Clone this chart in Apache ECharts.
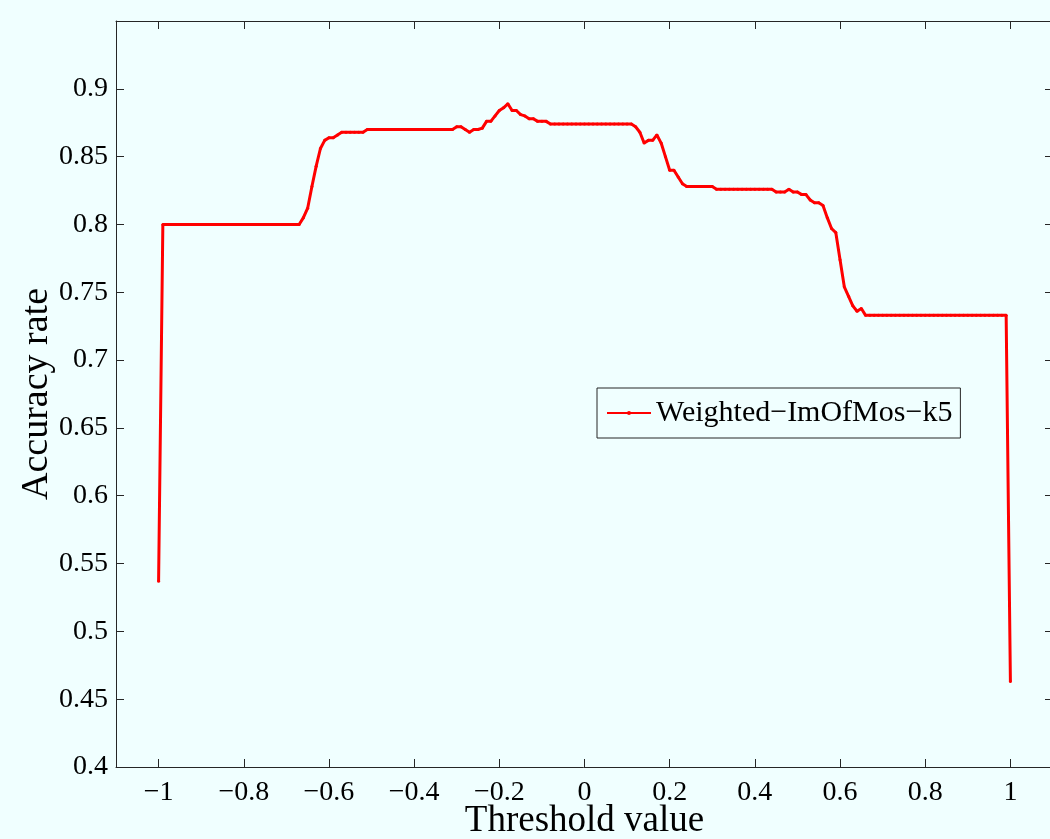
<!DOCTYPE html>
<html>
<head>
<meta charset="utf-8">
<title>Accuracy rate vs threshold</title>
<script src="https://cdn.jsdelivr.net/npm/echarts@6/dist/echarts.min.js"></script>
<style>
  html, body { margin: 0; padding: 0; background: #F0FFFF; }
  #chart { width: 1050px; height: 839px; }
</style>
</head>
<body>
<div id="chart"></div>
<script>
// Threshold values (x) sampled every 0.01
const thresholds = [
  -1.00, -0.99, -0.98, -0.97, -0.96, -0.95, -0.94, -0.93, -0.92, -0.91,
  -0.90, -0.89, -0.88, -0.87, -0.86, -0.85, -0.84, -0.83, -0.82, -0.81,
  -0.80, -0.79, -0.78, -0.77, -0.76, -0.75, -0.74, -0.73, -0.72, -0.71,
  -0.70, -0.69, -0.68, -0.67, -0.66, -0.65, -0.64, -0.63, -0.62, -0.61,
  -0.60, -0.59, -0.58, -0.57, -0.56, -0.55, -0.54, -0.53, -0.52, -0.51,
  -0.50, -0.49, -0.48, -0.47, -0.46, -0.45, -0.44, -0.43, -0.42, -0.41,
  -0.40, -0.39, -0.38, -0.37, -0.36, -0.35, -0.34, -0.33, -0.32, -0.31,
  -0.30, -0.29, -0.28, -0.27, -0.26, -0.25, -0.24, -0.23, -0.22, -0.21,
  -0.20, -0.19, -0.18, -0.17, -0.16, -0.15, -0.14, -0.13, -0.12, -0.11,
  -0.10, -0.09, -0.08, -0.07, -0.06, -0.05, -0.04, -0.03, -0.02, -0.01,
   0.00,  0.01,  0.02,  0.03,  0.04,  0.05,  0.06,  0.07,  0.08,  0.09,
   0.10,  0.11,  0.12,  0.13,  0.14,  0.15,  0.16,  0.17,  0.18,  0.19,
   0.20,  0.21,  0.22,  0.23,  0.24,  0.25,  0.26,  0.27,  0.28,  0.29,
   0.30,  0.31,  0.32,  0.33,  0.34,  0.35,  0.36,  0.37,  0.38,  0.39,
   0.40,  0.41,  0.42,  0.43,  0.44,  0.45,  0.46,  0.47,  0.48,  0.49,
   0.50,  0.51,  0.52,  0.53,  0.54,  0.55,  0.56,  0.57,  0.58,  0.59,
   0.60,  0.61,  0.62,  0.63,  0.64,  0.65,  0.66,  0.67,  0.68,  0.69,
   0.70,  0.71,  0.72,  0.73,  0.74,  0.75,  0.76,  0.77,  0.78,  0.79,
   0.80,  0.81,  0.82,  0.83,  0.84,  0.85,  0.86,  0.87,  0.88,  0.89,
   0.90,  0.91,  0.92,  0.93,  0.94,  0.95,  0.96,  0.97,  0.98,  0.99,
   1.00
];

// Accuracy rate at each threshold
const accuracy = [
  0.537, 0.800, 0.800, 0.800, 0.800, 0.800, 0.800, 0.800, 0.800, 0.800,
  0.800, 0.800, 0.800, 0.800, 0.800, 0.800, 0.800, 0.800, 0.800, 0.800,
  0.800, 0.800, 0.800, 0.800, 0.800, 0.800, 0.800, 0.800, 0.800, 0.800,
  0.800, 0.800, 0.800, 0.800, 0.805, 0.812, 0.828, 0.843, 0.856, 0.862,
  0.864, 0.864, 0.866, 0.868, 0.868, 0.868, 0.868, 0.868, 0.868, 0.870,
  0.870, 0.870, 0.870, 0.870, 0.870, 0.870, 0.870, 0.870, 0.870, 0.870,
  0.870, 0.870, 0.870, 0.870, 0.870, 0.870, 0.870, 0.870, 0.870, 0.870,
  0.872, 0.872, 0.870, 0.868, 0.870, 0.870, 0.871, 0.876, 0.876, 0.880,
  0.884, 0.886, 0.889, 0.884, 0.884, 0.881, 0.880, 0.878, 0.878, 0.876,
  0.876, 0.876, 0.874, 0.874, 0.874, 0.874, 0.874, 0.874, 0.874, 0.874,
  0.874, 0.874, 0.874, 0.874, 0.874, 0.874, 0.874, 0.874, 0.874, 0.874,
  0.874, 0.874, 0.872, 0.868, 0.860, 0.862, 0.862, 0.866, 0.860, 0.850,
  0.840, 0.840, 0.835, 0.830, 0.828, 0.828, 0.828, 0.828, 0.828, 0.828,
  0.828, 0.826, 0.826, 0.826, 0.826, 0.826, 0.826, 0.826, 0.826, 0.826,
  0.826, 0.826, 0.826, 0.826, 0.826, 0.824, 0.824, 0.824, 0.826, 0.824,
  0.824, 0.822, 0.822, 0.818, 0.816, 0.816, 0.814, 0.805, 0.797, 0.794,
  0.774, 0.754, 0.747, 0.740, 0.736, 0.738, 0.733, 0.733, 0.733, 0.733,
  0.733, 0.733, 0.733, 0.733, 0.733, 0.733, 0.733, 0.733, 0.733, 0.733,
  0.733, 0.733, 0.733, 0.733, 0.733, 0.733, 0.733, 0.733, 0.733, 0.733,
  0.733, 0.733, 0.733, 0.733, 0.733, 0.733, 0.733, 0.733, 0.733, 0.733,
  0.463
];

// Tick positions
const xTicks = [-1, -0.8, -0.6, -0.4, -0.2, 0, 0.2, 0.4, 0.6, 0.8, 1];
const yTicks = [0.4, 0.45, 0.5, 0.55, 0.6, 0.65, 0.7, 0.75, 0.8, 0.85, 0.9];

const seriesName = 'Weighted\u2212ImOfMos\u2212k5';
const FONT = 'Liberation Serif';
const AXIS_COLOR = '#262626';

// Tick label text with a true minus sign
function fmt(v) {
  const s = String(Math.round(v * 100) / 100);
  return s.replace('-', '\u2212');
}

const points = thresholds.map((t, i) => [t, accuracy[i]]);

const baseX = {
  type: 'value', min: -1.1, max: 1.1,
  axisLine: { show: true, onZero: false, lineStyle: { color: AXIS_COLOR, width: 1 } },
  axisTick: { show: true, inside: true, length: 8, customValues: xTicks,
              lineStyle: { color: AXIS_COLOR, width: 1 } },
  splitLine: { show: false }
};
const baseY = {
  type: 'value', min: 0.4, max: 0.95,
  axisLine: { show: true, onZero: false, lineStyle: { color: AXIS_COLOR, width: 1 } },
  axisTick: { show: true, inside: true, length: 8, customValues: yTicks,
              lineStyle: { color: AXIS_COLOR, width: 1 } },
  splitLine: { show: false }
};

const chart = echarts.init(document.getElementById('chart'), null, { renderer: 'canvas' });
chart.setOption({
  backgroundColor: '#F0FFFF',
  animation: false,
  grid: { left: 116, top: 21, right: -3, bottom: 72, containLabel: false, outerBoundsMode: 'none' },
  legend: {
    left: 597, top: 388,
    padding: [10, 8, 10, 9],
    borderColor: AXIS_COLOR, borderWidth: 1,
    backgroundColor: '#F0FFFF',
    itemWidth: 44, itemHeight: 5, itemGap: 6,
    textStyle: { fontFamily: FONT, fontSize: 30, color: '#000' },
    data: [seriesName]
  },
  xAxis: [
    Object.assign({}, baseX, {
      position: 'bottom',
      axisLabel: { customValues: xTicks, formatter: fmt, fontFamily: FONT,
                   fontSize: 28, color: '#000', margin: 12 },
      name: 'Threshold value', nameLocation: 'middle', nameGap: 36,
      nameMoveOverlap: false,
      nameTextStyle: { fontFamily: FONT, fontSize: 37, color: '#000' }
    }),
    Object.assign({}, baseX, { position: 'top', axisLabel: { show: false } })
  ],
  yAxis: [
    Object.assign({}, baseY, {
      position: 'left',
      axisLabel: { customValues: yTicks, formatter: fmt, fontFamily: FONT,
                   fontSize: 28, color: '#000', margin: 8 },
      name: 'Accuracy rate', nameLocation: 'middle', nameGap: 60,
      nameMoveOverlap: false,
      nameTextStyle: { fontFamily: FONT, fontSize: 38, color: '#000' }
    }),
    Object.assign({}, baseY, { position: 'right', axisLabel: { show: false } })
  ],
  series: [{
    name: seriesName,
    type: 'line',
    data: points,
    xAxisIndex: 0, yAxisIndex: 0,
    symbol: 'circle', symbolSize: 3, showAllSymbol: true,
    itemStyle: { color: '#FF0000' },
    lineStyle: { color: '#FF0000', width: 3 },
    emphasis: { disabled: true }
  }]
});
</script>
</body>
</html>
